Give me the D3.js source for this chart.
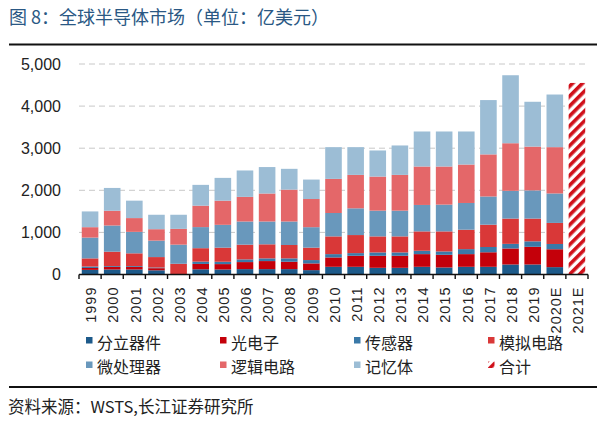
<!DOCTYPE html>
<html><head><meta charset="utf-8">
<script src="https://cdn.jsdelivr.net/npm/d3@7/dist/d3.min.js"></script>
<style>
body{margin:0;background:#fff;}
svg{display:block;font-family:"Liberation Sans","Noto Sans CJK SC",sans-serif;}
</style></head><body>
<script>
const years = ["1999","2000","2001","2002","2003","2004","2005","2006","2007","2008","2009","2010","2011","2012","2013","2014","2015","2016","2017","2018","2019","2020E","2021E"];
const discrete = [110,120,120,100,0,124,120,128,128,128,104,183,183,159,159,183,167,183,183,238,238,175,null];
const opto     = [45,60,60,50,0,127,127,167,191,175,159,222,262,286,286,301,301,301,345,380,420,425,null];
const sensor   = [35,20,20,17,0,55,56,64,64,80,80,79,63,79,79,80,80,119,125,110,130,125,null];
const analog   = [193,342,303,247,255,319,335,350,334,318,295,421,429,381,381,460,476,461,530,600,540,500,null];
const micro    = [494,622,510,391,454,501,542,550,542,558,486,556,635,612,612,628,636,635,670,660,670,700,null];
const logic    = [247,350,327,271,375,509,573,585,665,757,669,810,794,809,849,913,905,913,1000,1130,1040,1100,null];
const memory   = [374,542,414,343,335,494,542,627,628,494,462,754,659,620,699,832,832,785,1290,1615,1065,1250,null];
const total    = [null,null,null,null,null,null,null,null,null,null,null,null,null,null,null,null,null,null,null,null,null,null,4550];
const yTicks = [0,1000,2000,3000,4000,5000];
const seriesNames = ["分立器件","光电子","传感器","模拟电路","微处理器","逻辑电路","记忆体"];
const seriesColors = ["#1D5A8A","#C4000A","#3A79A8","#D93838","#6998BC","#E46769","#9CBDD5"];
const seriesData = [discrete,opto,sensor,analog,micro,logic,memory];

const W=606,H=428;
const svg = d3.select("body").append("svg").attr("width",W).attr("height",H);
const defs = svg.append("defs");
const pat = defs.append("pattern").attr("id","hatch").attr("patternUnits","userSpaceOnUse")
  .attr("width",7).attr("height",7).attr("patternTransform","rotate(45)");
pat.append("rect").attr("width",7).attr("height",7).attr("fill","#fff");
pat.append("rect").attr("width",3.6).attr("height",7).attr("fill","#D0101A");

// title
svg.append("text").attr("x",9).attr("y",24).attr("font-size",18)
  .attr("font-family","'Noto Sans CJK SC',sans-serif").attr("fill","#2A5884")
  .text("图 8：全球半导体市场（单位：亿美元）");
svg.append("line").attr("x1",9).attr("x2",597).attr("y1",44.5).attr("y2",44.5)
  .attr("stroke","#111").attr("stroke-width",2.2);

const x = d3.scaleBand().domain(years).range([79,588]).paddingInner(0.25).paddingOuter(0.125);
const y = d3.scaleLinear().domain([0,5000]).range([274.5,64]);

// gridlines
svg.append("g").selectAll("line").data(yTicks.filter(d=>d>0)).join("line")
  .attr("x1",79).attr("x2",588).attr("y1",d=>y(d)).attr("y2",d=>y(d))
  .attr("stroke","#C8C8C8").attr("stroke-width",1).attr("stroke-dasharray","6,4");

// y labels
const yAxis = d3.axisLeft(y).tickValues(yTicks).tickSize(0).tickPadding(0)
  .tickFormat(d3.format(","));
const gy = svg.append("g").attr("transform","translate(61,0)").call(yAxis);
gy.select(".domain").remove();
gy.selectAll("text").attr("font-size",16).attr("fill","#222")
  .attr("font-family","'Liberation Sans',Arial,sans-serif");

// stacked bars
const rows = years.map((yr,i)=>{const o={year:yr}; seriesNames.forEach((n,k)=>o[n]=seriesData[k][i]||0); return o;});
const stack = d3.stack().keys(seriesNames)(rows);
svg.append("g").selectAll("g").data(stack).join("g")
  .attr("fill",(d,i)=>seriesColors[i])
  .selectAll("rect").data(d=>d.filter(p=>p[1]>p[0])).join("rect")
  .attr("x",d=>x(d.data.year)).attr("width",x.bandwidth())
  .attr("y",d=>y(d[1])).attr("height",d=>y(d[0])-y(d[1]));

// total hatched bar
svg.append("g").selectAll("rect").data(years.map((yr,i)=>({year:yr,v:total[i]})).filter(d=>d.v!=null))
  .join("rect").attr("x",d=>x(d.year)).attr("width",x.bandwidth())
  .attr("y",d=>y(d.v)).attr("height",d=>y(0)-y(d.v)).attr("fill","url(#hatch)");

// x axis
const gx = svg.append("g").attr("transform",`translate(0,${y(0)})`);
gx.append("line").attr("x1",79).attr("x2",588).attr("stroke","#111").attr("stroke-width",1.6);
const off = (x.step()-x.bandwidth())/2;
const bounds = years.map(d=>x(d)-off).concat([x(years[years.length-1])+x.bandwidth()+off]);
gx.selectAll("line.tk").data(bounds).join("line").attr("class","tk")
  .attr("x1",d=>d).attr("x2",d=>d).attr("y1",0).attr("y2",4.5).attr("stroke","#111").attr("stroke-width",1.4);
const xAxis = d3.axisBottom(x).tickSize(0).tickPadding(0);
const gxl = svg.append("g").attr("transform",`translate(0,${y(0)})`).call(xAxis);
gxl.select(".domain").remove();
gxl.selectAll("text").attr("transform","rotate(-90)").attr("text-anchor","end")
  .attr("x",-12).attr("y",1).attr("dy","0.36em").attr("font-size",14.5).attr("letter-spacing","1px")
  .attr("fill","#222").attr("font-family","'Liberation Sans',Arial,sans-serif");

// legend
const legendItems = seriesNames.map((n,i)=>({name:n,fill:seriesColors[i]})).concat([{name:"合计",fill:"url(#hatch)"}]);
const colX=[86,220,354,488], rowY=[343,367.5];
const lg = svg.append("g").selectAll("g").data(legendItems).join("g")
  .attr("transform",(d,i)=>`translate(${colX[i%4]},${rowY[Math.floor(i/4)]})`);
lg.append("rect").attr("x",0).attr("y",-6).attr("width",6.5).attr("height",6.5).attr("fill",d=>d.fill);
lg.append("text").attr("x",11).attr("y",0).attr("dy","0.36em").attr("font-size",16)
  .attr("font-family","'Noto Sans CJK SC',sans-serif").attr("fill","#222").text(d=>d.name);

svg.append("line").attr("x1",9).attr("x2",597).attr("y1",387).attr("y2",387)
  .attr("stroke","#111").attr("stroke-width",2.2);
svg.append("text").attr("x",8).attr("y",407).attr("dy","0.36em").attr("font-size",16.5)
  .attr("font-family","'Noto Sans CJK SC',sans-serif").attr("fill","#222")
  .text("资料来源：WSTS,长江证券研究所");
</script></body></html>
